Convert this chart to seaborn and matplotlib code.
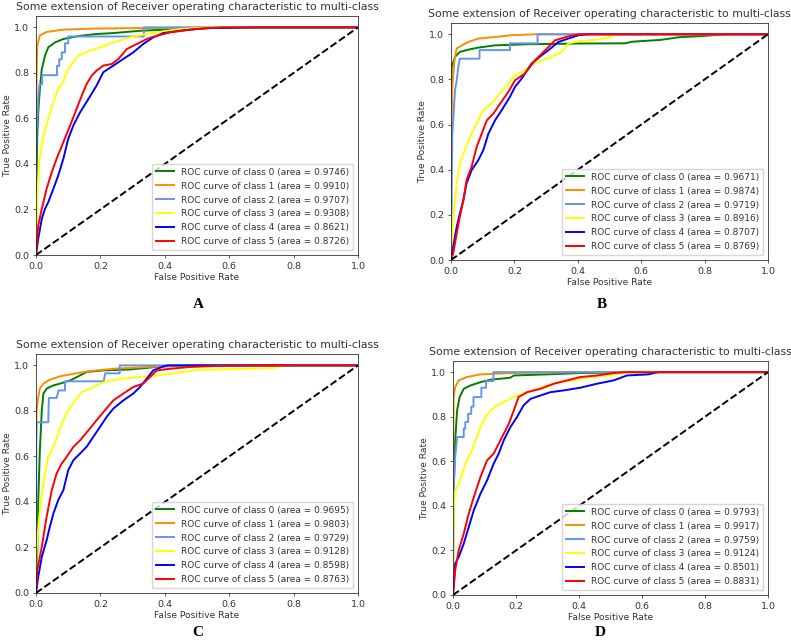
import matplotlib
matplotlib.use("Agg")
import matplotlib.pyplot as plt
import seaborn as sns

# ---------------- data ----------------
colors = ["green", "darkorange", "cornflowerblue", "yellow", "blue", "red"]
panel_letters = ["A", "B", "C", "D"]
title_text = "Some extension of Receiver operating characteristic to multi-class"

auc_A = [0.9746, 0.9910, 0.9707, 0.9308, 0.8621, 0.8726]
auc_B = [0.9671, 0.9874, 0.9719, 0.8916, 0.8707, 0.8769]
auc_C = [0.9695, 0.9803, 0.9729, 0.9128, 0.8598, 0.8763]
auc_D = [0.9793, 0.9917, 0.9759, 0.9124, 0.8501, 0.8831]

# Panel A
fpr_A0 = [0, 0.002, 0.004, 0.007, 0.012, 0.018, 0.028, 0.038, 0.059, 0.085, 0.137, 0.188, 0.24, 0.323, 0.447, 0.54, 0.6, 1.0]
tpr_A0 = [0, 0.35, 0.53, 0.627, 0.73, 0.817, 0.876, 0.912, 0.934, 0.949, 0.963, 0.971, 0.975, 0.985, 0.993, 0.999, 1.0, 1.0]
fpr_A1 = [0, 0, 0.002, 0.004, 0.012, 0.033, 0.085, 0.188, 0.4, 0.5, 1.0]
tpr_A1 = [0, 0.54, 0.8, 0.92, 0.965, 0.98, 0.99, 0.995, 0.998, 1.0, 1.0]
fpr_A2 = [0, 0.001, 0.008, 0.011, 0.019, 0.019, 0.065, 0.065, 0.072, 0.072, 0.08, 0.08, 0.09, 0.09, 0.1, 0.1, 0.335, 0.335, 1.0]
tpr_A2 = [0, 0.53, 0.715, 0.75, 0.75, 0.79, 0.79, 0.83, 0.83, 0.86, 0.86, 0.89, 0.89, 0.93, 0.93, 0.96, 0.96, 1.0, 1.0]
fpr_A3 = [0, 0.004, 0.01, 0.023, 0.038, 0.054, 0.069, 0.085, 0.095, 0.111, 0.131, 0.168, 0.199, 0.24, 0.292, 0.344, 0.395, 0.447, 0.52, 0.6, 1.0]
tpr_A3 = [0, 0.247, 0.408, 0.525, 0.598, 0.671, 0.73, 0.759, 0.803, 0.839, 0.876, 0.898, 0.912, 0.934, 0.956, 0.971, 0.982, 0.993, 0.999, 1.0, 1.0]
fpr_A4 = [0, 0.007, 0.018, 0.028, 0.038, 0.054, 0.069, 0.085, 0.1, 0.116, 0.137, 0.163, 0.188, 0.209, 0.24, 0.271, 0.302, 0.333, 0.364, 0.395, 0.447, 0.499, 0.54, 0.7, 1.0]
tpr_A4 = [0, 0.072, 0.159, 0.203, 0.232, 0.291, 0.349, 0.423, 0.51, 0.569, 0.627, 0.686, 0.744, 0.803, 0.832, 0.861, 0.89, 0.927, 0.956, 0.975, 0.985, 0.993, 0.997, 1.0, 1.0]
fpr_A5 = [0, 0.007, 0.018, 0.033, 0.049, 0.064, 0.085, 0.106, 0.126, 0.142, 0.157, 0.173, 0.188, 0.209, 0.235, 0.256, 0.282, 0.313, 0.344, 0.375, 0.416, 0.478, 0.54, 0.58, 1.0]
tpr_A5 = [0, 0.13, 0.203, 0.291, 0.364, 0.423, 0.496, 0.569, 0.642, 0.7, 0.751, 0.788, 0.81, 0.832, 0.839, 0.861, 0.905, 0.927, 0.949, 0.963, 0.978, 0.99, 0.997, 1.0, 1.0]

# Panel B
fpr_B0 = [0, 0, 0.002, 0.0126, 0.028, 0.055, 0.086, 0.139, 0.244, 0.4, 0.55, 0.57, 0.66, 0.72, 0.8, 0.87, 1.0]
tpr_B0 = [0, 0.6, 0.855, 0.9, 0.922, 0.932, 0.941, 0.951, 0.956, 0.959, 0.96, 0.967, 0.975, 0.987, 0.993, 1.0, 1.0]
fpr_B1 = [0, 0.001, 0.004, 0.011, 0.018, 0.034, 0.055, 0.086, 0.139, 0.191, 0.265, 1.0]
tpr_B1 = [0, 0.55, 0.767, 0.885, 0.937, 0.951, 0.966, 0.981, 0.988, 0.996, 1.0, 1.0]
fpr_B2 = [0, 0.002, 0.004, 0.0126, 0.018, 0.023, 0.028, 0.09, 0.09, 0.186, 0.186, 0.273, 0.273, 1.0]
tpr_B2 = [0, 0.27, 0.55, 0.752, 0.796, 0.855, 0.892, 0.892, 0.93, 0.93, 0.96, 0.96, 1.0, 1.0]
fpr_B3 = [0, 0.004, 0.0105, 0.018, 0.028, 0.044, 0.06, 0.076, 0.091, 0.107, 0.128, 0.149, 0.176, 0.202, 0.233, 0.26, 0.286, 0.318, 0.349, 0.37, 0.402, 0.454, 0.48, 0.507, 0.51, 1.0]
tpr_B3 = [0, 0.118, 0.236, 0.339, 0.428, 0.487, 0.546, 0.59, 0.634, 0.671, 0.693, 0.73, 0.774, 0.819, 0.841, 0.87, 0.885, 0.9, 0.922, 0.959, 0.97, 0.975, 0.981, 0.988, 1.0, 1.0]
fpr_B4 = [0, 0.007, 0.018, 0.028, 0.039, 0.049, 0.065, 0.086, 0.102, 0.118, 0.139, 0.16, 0.186, 0.202, 0.223, 0.254, 0.286, 0.307, 0.339, 0.37, 0.402, 0.43, 1.0]
tpr_B4 = [0, 0.059, 0.147, 0.206, 0.265, 0.339, 0.398, 0.442, 0.487, 0.56, 0.619, 0.664, 0.723, 0.767, 0.804, 0.87, 0.907, 0.929, 0.966, 0.981, 0.996, 1.0, 1.0]
fpr_B5 = [0, 0.007, 0.018, 0.028, 0.039, 0.049, 0.065, 0.081, 0.097, 0.113, 0.134, 0.155, 0.181, 0.202, 0.233, 0.265, 0.297, 0.328, 0.37, 0.402, 1.0]
tpr_B5 = [0, 0.029, 0.118, 0.192, 0.265, 0.354, 0.413, 0.501, 0.56, 0.619, 0.649, 0.693, 0.745, 0.796, 0.826, 0.885, 0.929, 0.973, 0.991, 1.0, 1.0]

# Panel C
fpr_C0 = [0, 0.004, 0.007, 0.012, 0.018, 0.023, 0.033, 0.054, 0.075, 0.106, 0.137, 0.157, 0.209, 0.292, 0.395, 0.499, 1.0]
tpr_C0 = [0, 0.189, 0.408, 0.627, 0.803, 0.876, 0.898, 0.912, 0.92, 0.934, 0.956, 0.971, 0.978, 0.982, 0.996, 1.0, 1.0]
fpr_C1 = [0, 0, 0.002, 0.007, 0.012, 0.023, 0.043, 0.075, 0.116, 0.168, 0.24, 0.344, 0.447, 0.5, 1.0]
tpr_C1 = [0, 0.66, 0.8, 0.861, 0.898, 0.92, 0.937, 0.952, 0.963, 0.975, 0.985, 0.993, 0.997, 1.0, 1.0]
fpr_C2 = [0, 0.001, 0.002, 0.038, 0.04, 0.064, 0.07, 0.09, 0.09, 0.21, 0.215, 0.26, 0.26, 1.0]
tpr_C2 = [0, 0.68, 0.75, 0.75, 0.857, 0.857, 0.89, 0.89, 0.93, 0.93, 0.965, 0.965, 1.0, 1.0]
fpr_C3 = [0, 0.002, 0.01, 0.023, 0.038, 0.054, 0.069, 0.085, 0.1, 0.121, 0.142, 0.168, 0.199, 0.23, 0.271, 0.323, 0.375, 0.416, 0.5, 0.65, 0.75, 0.77, 1.0]
tpr_C3 = [0, 0.189, 0.335, 0.481, 0.598, 0.642, 0.7, 0.759, 0.803, 0.846, 0.883, 0.898, 0.92, 0.934, 0.942, 0.949, 0.956, 0.963, 0.98, 0.985, 0.99, 1.0, 1.0]
fpr_C4 = [0, 0.007, 0.018, 0.033, 0.043, 0.054, 0.069, 0.085, 0.1, 0.116, 0.137, 0.157, 0.178, 0.199, 0.219, 0.24, 0.271, 0.302, 0.323, 0.344, 0.364, 0.395, 0.41, 1.0]
tpr_C4 = [0, 0.072, 0.159, 0.232, 0.291, 0.349, 0.408, 0.452, 0.539, 0.583, 0.613, 0.642, 0.686, 0.73, 0.773, 0.81, 0.846, 0.876, 0.905, 0.942, 0.978, 0.995, 1.0, 1.0]
fpr_C5 = [0, 0.004, 0.018, 0.033, 0.049, 0.064, 0.08, 0.095, 0.116, 0.137, 0.163, 0.188, 0.214, 0.24, 0.271, 0.302, 0.333, 0.354, 0.375, 0.416, 0.478, 0.551, 0.706, 1.0]
tpr_C5 = [0, 0.101, 0.203, 0.335, 0.452, 0.525, 0.569, 0.598, 0.642, 0.671, 0.715, 0.759, 0.803, 0.846, 0.876, 0.905, 0.92, 0.949, 0.978, 0.985, 0.993, 0.997, 1.0, 1.0]

# Panel D
fpr_D0 = [0, 0.002, 0.007, 0.013, 0.021, 0.034, 0.055, 0.087, 0.119, 0.182, 0.193, 0.298, 0.404, 0.616, 1.0]
tpr_D0 = [0, 0.469, 0.694, 0.828, 0.888, 0.925, 0.94, 0.955, 0.966, 0.975, 0.985, 0.99, 0.996, 1.0, 1.0]
fpr_D1 = [0, 0, 0.002, 0.007, 0.018, 0.044, 0.087, 0.193, 0.404, 1.0]
tpr_D1 = [0, 0.62, 0.888, 0.933, 0.963, 0.978, 0.99, 0.996, 1.0, 1.0]
fpr_D2 = [0, 0, 0.002, 0.007, 0.013, 0.034, 0.034, 0.039, 0.039, 0.048, 0.048, 0.058, 0.058, 0.065, 0.065, 0.09, 0.09, 0.105, 0.105, 0.128, 0.128, 1.0]
tpr_D2 = [0, 0.32, 0.469, 0.62, 0.709, 0.709, 0.746, 0.746, 0.776, 0.776, 0.813, 0.813, 0.845, 0.845, 0.888, 0.888, 0.93, 0.93, 0.96, 0.96, 1.0, 1.0]
fpr_D3 = [0, 0.002, 0.007, 0.018, 0.029, 0.044, 0.06, 0.076, 0.087, 0.103, 0.119, 0.14, 0.171, 0.203, 0.235, 0.267, 0.298, 0.341, 0.383, 0.425, 0.489, 0.552, 0.6, 1.0]
tpr_D3 = [0, 0.395, 0.469, 0.499, 0.544, 0.604, 0.649, 0.709, 0.753, 0.798, 0.828, 0.851, 0.873, 0.895, 0.91, 0.925, 0.94, 0.955, 0.963, 0.975, 0.985, 0.996, 1.0, 1.0]
fpr_D4 = [0, 0.007, 0.018, 0.034, 0.05, 0.066, 0.087, 0.108, 0.129, 0.145, 0.161, 0.182, 0.203, 0.224, 0.246, 0.277, 0.309, 0.351, 0.404, 0.457, 0.51, 0.552, 0.62, 0.65, 1.0]
tpr_D4 = [0, 0.141, 0.17, 0.23, 0.305, 0.38, 0.454, 0.514, 0.589, 0.634, 0.694, 0.753, 0.798, 0.851, 0.88, 0.895, 0.91, 0.918, 0.93, 0.948, 0.963, 0.985, 0.99, 1.0, 1.0]
fpr_D5 = [0, 0.007, 0.018, 0.034, 0.05, 0.066, 0.087, 0.108, 0.129, 0.145, 0.161, 0.177, 0.193, 0.208, 0.235, 0.277, 0.32, 0.362, 0.404, 0.457, 0.51, 0.552, 1.0]
tpr_D5 = [0, 0.111, 0.2, 0.275, 0.365, 0.439, 0.529, 0.604, 0.634, 0.679, 0.723, 0.768, 0.828, 0.888, 0.91, 0.925, 0.948, 0.963, 0.978, 0.985, 0.996, 1.0, 1.0]

panels = [
    ([(fpr_A0, tpr_A0), (fpr_A1, tpr_A1), (fpr_A2, tpr_A2), (fpr_A3, tpr_A3), (fpr_A4, tpr_A4), (fpr_A5, tpr_A5)], auc_A),
    ([(fpr_B0, tpr_B0), (fpr_B1, tpr_B1), (fpr_B2, tpr_B2), (fpr_B3, tpr_B3), (fpr_B4, tpr_B4), (fpr_B5, tpr_B5)], auc_B),
    ([(fpr_C0, tpr_C0), (fpr_C1, tpr_C1), (fpr_C2, tpr_C2), (fpr_C3, tpr_C3), (fpr_C4, tpr_C4), (fpr_C5, tpr_C5)], auc_C),
    ([(fpr_D0, tpr_D0), (fpr_D1, tpr_D1), (fpr_D2, tpr_D2), (fpr_D3, tpr_D3), (fpr_D4, tpr_D4), (fpr_D5, tpr_D5)], auc_D),
]

# ---------------- layout ----------------
W, H = 791, 641
fig = plt.figure(figsize=(W / 100, H / 100), dpi=100)
plt.rcParams['font.family'] = ['DejaVu Sans']

# axes boxes in pixels: left, top, right, bottom
boxes = [(36, 16, 358, 255), (451, 23, 768, 260), (36, 354, 358, 593), (453, 361, 768, 595)]
letter_pos = [(198, 304), (602, 305), (198, 633), (600, 633)]
txt_col = "#333333"

for (curves, aucs), (l, t, r, b), letter, (lx, ly) in zip(panels, boxes, panel_letters, letter_pos):
    ax = fig.add_axes([l / W, 1 - b / H, (r - l) / W, (b - t) / H])
    for i, ((fx, ty), auc) in enumerate(zip(curves, aucs)):
        sns.lineplot(x=fx, y=ty, ax=ax, sort=False, estimator=None, color=colors[i],
                     lw=1.4, label=f"ROC curve of class {i} (area = {auc:.4f})")
    ax.plot([0, 1], [0, 1], "k--", lw=1.4)
    ax.set_xlim(0.0, 1.0)
    ax.set_ylim(0.0, 1.05)
    ax.set_xticks([0.0, 0.2, 0.4, 0.6, 0.8, 1.0])
    ax.set_yticks([0.0, 0.2, 0.4, 0.6, 0.8, 1.0])
    ax.tick_params(labelsize=6.8, length=2.3, width=0.55, colors=txt_col, labelcolor=txt_col, pad=2.5)
    for s in ax.spines.values():
        s.set_linewidth(0.55)
        s.set_color("#222222")
    ax.set_xlabel("False Positive Rate", fontsize=6.6, color=txt_col, labelpad=2)
    ax.set_ylabel("True Positive Rate", fontsize=6.6, color=txt_col, labelpad=2)
    ax.set_title(title_text, fontsize=7.8, color=txt_col, pad=4)
    leg = ax.legend(loc="lower right", fontsize=6.5, framealpha=0.8, edgecolor="#cccccc",
                    borderpad=0.45, labelspacing=0.55, handlelength=2.0)
    for t_ in leg.get_texts():
        t_.set_color(txt_col)
    fig.text(lx / W, 1 - ly / H, letter, ha="center", va="center",
             fontfamily="Liberation Serif", fontweight="bold", fontsize=11)

fig.savefig("out.png", dpi=100)
